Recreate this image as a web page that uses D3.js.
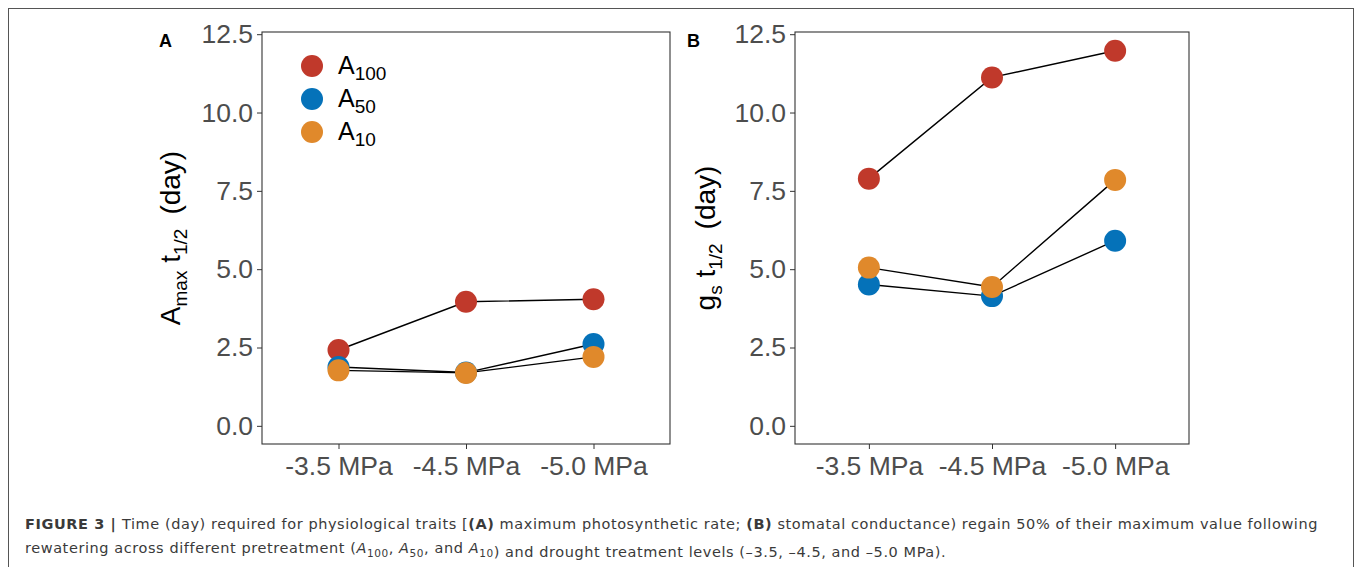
<!DOCTYPE html>
<html lang="en">
<head>
<meta charset="utf-8">
<script src="https://d3js.org/d3.v7.min.js"></script>
<style type="text/css">
body {
  margin: 0;
  background-color: #ffffff;
  font-family: "Liberation Sans", Arial, sans-serif;
}
.tick text {
  font-size: 26.5px;
  fill: #4d4d4d;
}
.tick line {
  stroke: #333;
}
.caption {
  font-family: "DejaVu Sans", sans-serif;
  font-size: 14.5px;
  fill: #3a3a3a;
}
</style>
</head>
<body>
<script type="text/javascript">

// Drought treatment levels (x categories)
var pressures = ["-3.5 MPa", "-4.5 MPa", "-5.0 MPa"];
// Pretreatment groups
var groups = ["100", "50", "10"];
var groupColors = ["#c0392b", "#0572b9", "#e0892b"];
var yTicks = [0, 2.5, 5, 7.5, 10, 12.5];

// Panel A: Amax t1/2 (day)
var amaxA100 = [2.42, 3.96, 4.04];
var amaxA50 = [1.88, 1.70, 2.61];
var amaxA10 = [1.77, 1.69, 2.20];

// Panel B: gs t1/2 (day)
var gsA100 = [7.89, 11.12, 11.97];
var gsA50 = [4.51, 4.14, 5.91];
var gsA10 = [5.05, 4.43, 7.85];

var width = 1358;
var height = 567;

var svg = d3.select("body")
  .append("svg")
  .attr("width", width)
  .attr("height", height);

// outer frame of the figure
svg.append("rect")
  .attr("x", 8.5).attr("y", 8.5)
  .attr("width", 1345).attr("height", 580)
  .style("fill", "none")
  .style("stroke", "#555")
  .style("stroke-width", 1);

var plotTop = 32, plotBottom = 444;

function drawPanel(opts) {
  var x = d3.scalePoint()
    .domain(pressures)
    .range([opts.left, opts.right])
    .padding(0.6);

  var y = d3.scaleLinear()
    .domain([-0.58, 12.57])
    .range([plotBottom, plotTop]);

  var g = svg.append("g");

  // y axis
  var yAxis = g.append("g")
    .attr("transform", "translate(" + opts.left + ",0)")
    .call(d3.axisLeft(y).tickValues(yTicks).tickFormat(d3.format(".1f")).tickSize(5).tickPadding(4));
  yAxis.select(".domain").remove();
  yAxis.selectAll("text").style("font-family", "Liberation Sans, Arial, sans-serif");

  // x axis
  var xAxis = g.append("g")
    .attr("transform", "translate(0," + plotBottom + ")")
    .call(d3.axisBottom(x).tickSize(5).tickPadding(6));
  xAxis.select(".domain").remove();
  xAxis.selectAll("text")
    .style("font-family", "Liberation Sans, Arial, sans-serif")
    .attr("dy", null)
    .attr("y", 31);

  // panel border
  g.append("rect")
    .attr("x", opts.left).attr("y", plotTop)
    .attr("width", opts.right - opts.left)
    .attr("height", plotBottom - plotTop)
    .style("fill", "none")
    .style("stroke", "#333")
    .style("stroke-width", 1.1);

  var line = d3.line()
    .x(function(d, i) { return x(pressures[i]); })
    .y(function(d) { return y(d); });

  // lines first
  opts.series.forEach(function(s) {
    g.append("path")
      .attr("d", line(s))
      .style("fill", "none")
      .style("stroke", "#000")
      .style("stroke-width", 1.4);
  });

  // points, in group order (A10 on top)
  opts.series.forEach(function(s, k) {
    g.selectAll(null)
      .data(s)
      .enter()
      .append("circle")
      .attr("cx", function(d, i) { return x(pressures[i]); })
      .attr("cy", function(d) { return y(d); })
      .attr("r", 11)
      .style("fill", groupColors[k]);
  });

  // panel letter
  g.append("text")
    .attr("x", opts.letterX).attr("y", 47)
    .style("font-size", "18px")
    .style("font-weight", "bold")
    .style("fill", "#000")
    .text(opts.letter);

  // y axis title
  var title = g.append("text")
    .attr("transform", "translate(" + opts.titleX + ",238) rotate(-90)")
    .attr("text-anchor", "middle")
    .style("font-size", "28px")
    .style("fill", "#000");
  title.append("tspan").text(opts.titleMain);
  title.append("tspan").attr("dy", 7).style("font-size", "19px").text(opts.titleSub);
  title.append("tspan").attr("dy", -7).text(" t");
  title.append("tspan").attr("dy", 7).style("font-size", "19px").text("1/2");
  title.append("tspan").attr("dy", -7).attr("dx", 14).text("(day)");

  return g;
}

var gA = drawPanel({
  left: 262, right: 670, letter: "A", letterX: 159, titleX: 180,
  titleMain: "A", titleSub: "max",
  series: [amaxA100, amaxA50, amaxA10]
});

drawPanel({
  left: 795, right: 1189, letter: "B", letterX: 687, titleX: 715,
  titleMain: "g", titleSub: "s",
  series: [gsA100, gsA50, gsA10]
});

// legend inside panel A
var legend = gA.append("g");
groups.forEach(function(name, i) {
  var cy = 66 + i * 33;
  legend.append("circle")
    .attr("cx", 312).attr("cy", cy).attr("r", 11)
    .style("fill", groupColors[i]);
  var t = legend.append("text")
    .attr("x", 338).attr("y", cy + 8)
    .style("font-size", "25px")
    .style("fill", "#000");
  t.append("tspan").text("A");
  t.append("tspan").attr("dy", 6).style("font-size", "19px").text(name);
});

// caption
var cap1 = svg.append("text")
  .attr("class", "caption")
  .attr("x", 25).attr("y", 529);
cap1.append("tspan").style("font-weight", "bold").text("FIGURE 3 | ");
cap1.append("tspan").text("Time (day) required for physiological traits [");
cap1.append("tspan").style("font-weight", "bold").text("(A)");
cap1.append("tspan").text(" maximum photosynthetic rate; ");
cap1.append("tspan").style("font-weight", "bold").text("(B)");
cap1.append("tspan").text(" stomatal conductance) regain 50% of their maximum value following");

var cap2 = svg.append("text")
  .attr("class", "caption")
  .attr("x", 25).attr("y", 553);
cap2.append("tspan").text("rewatering across different pretreatment (");
var seps = [", ", ", and ", ""];
groups.forEach(function(name, i) {
  cap2.append("tspan").style("font-style", "italic").text("A");
  cap2.append("tspan").attr("dy", 4).style("font-size", "10.5px").text(name);
  cap2.append("tspan").attr("dy", -4).text(seps[i]);
});
cap2.append("tspan").text(") and drought treatment levels (\u20133.5, \u20134.5, and \u20135.0 MPa).");

// fit line 1 to the reference width
var len1 = cap1.node().getComputedTextLength();
var n1 = cap1.text().length;
var ls = (1293 - len1) / n1;
cap1.style("letter-spacing", ls + "px");
cap2.style("letter-spacing", ls + "px");

</script>
</body>
</html>
